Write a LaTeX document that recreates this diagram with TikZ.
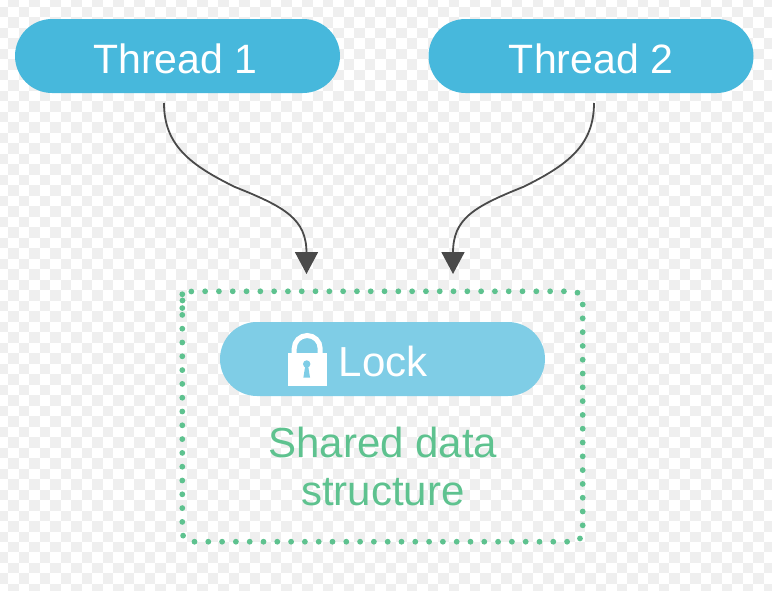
\documentclass[tikz,border=0pt]{standalone}
\usepackage{fontspec}
\setmainfont{Liberation Sans}
\usetikzlibrary{arrows.meta}
\definecolor{threadblue}{HTML}{47B8DC}
\definecolor{lockblue}{HTML}{7FCDE6}
\definecolor{sharedgreen}{HTML}{5EC28F}
\definecolor{arrowgray}{HTML}{4A4A4A}
\definecolor{checkgray}{HTML}{EFEFEF}
\tikzset{
  pill/.style={rounded corners=37pt, minimum width=325pt, minimum height=74pt,
    inner sep=0pt, text=white, text height=34.6pt, text depth=0pt, font=\fontsize{41}{48}\selectfont},
  flow/.style={draw=arrowgray, line width=1.8pt, -{Triangle[width=23pt,length=22pt]}}
}

\begin{document}
\begin{tikzpicture}[x=1pt, y=-1pt]
  \useasboundingbox (0,0) rectangle (772,590);

  % checker behind everything
  \newcommand\CELL{10.49}
  \foreach \i in {-1,...,73}{
    \foreach \j in {-1,...,55}{
      \pgfmathparse{int(mod(\i+\j+2,2))}
      \ifnum\pgfmathresult=1
        \fill[checkgray] (8.3+\i*\CELL, 7+\j*\CELL) rectangle +(\CELL, \CELL);
      \fi
    }
  }

  \node[pill, fill=threadblue] (thread1) at (177.5, 56) {\hspace{-4pt}Thread 1};
  \node[pill, fill=threadblue] (thread2) at (591, 56) {Thread 2};
  \node[pill, fill=lockblue] (lock) at (382.5, 359) {};
  \node[text=white, font=\fontsize{42}{48}\selectfont, anchor=base west, inner sep=0pt] (locktext) at (338.5, 376) {Lock};

  % padlock
  \fill[white] (287.5, 386) -- (326.5, 386) -- (326.5, 353) -- (287.5, 353) -- cycle;
  \draw[white, line width=5pt] (294.2, 354) -- (294.2, 348.5) arc[start angle=180, end angle=360, radius=13] -- (320.2, 354);
  \fill[lockblue] (306.7, 364) circle (3.7);
  \fill[lockblue] (305.4, 365) -- (308, 365) -- (310, 377.5) -- (303.4, 377.5) -- cycle;

  % dotted box
  \coordinate (boxstart) at (182.3, 301.3);
  \coordinate (boxsw) at (182.3, 541.7);
  \coordinate (boxse) at (582.7, 541.7);
  \coordinate (boxne) at (582.7, 291.3);
  \coordinate (boxnw) at (182.3, 291.3);
  \draw[sharedgreen, line width=5.8pt, line cap=round, dash pattern=on 0pt off 13.8pt, dash phase=10.2pt,
    rounded corners=10pt] (boxstart) -- (boxsw) -- (boxse) -- (boxne) -- (boxnw) -- cycle;
  \node[text=sharedgreen, font=\fontsize{42}{48}\selectfont, align=center, inner sep=0pt] (shared) at (383, 466) {Shared data\\structure};

  \coordinate (t1from) at (164, 103);
  \coordinate (t1to) at (306.5, 274);
  \coordinate (t2from) at (594, 103);
  \coordinate (t2to) at (453, 274);

  \draw[flow] (t1from) .. controls +(0, 42) and +(-45, -22) .. (235, 187)
     .. controls +(50, 20) and +(0, -34) .. (306.5, 253) -- (t1to); % thread1->lock
  \draw[flow] (t2from) .. controls +(0, 42) and +(45, -22) .. (523, 187)
     .. controls +(-50, 20) and +(0, -34) .. (453, 253) -- (t2to); % thread2->lock
\end{tikzpicture}
\end{document}
